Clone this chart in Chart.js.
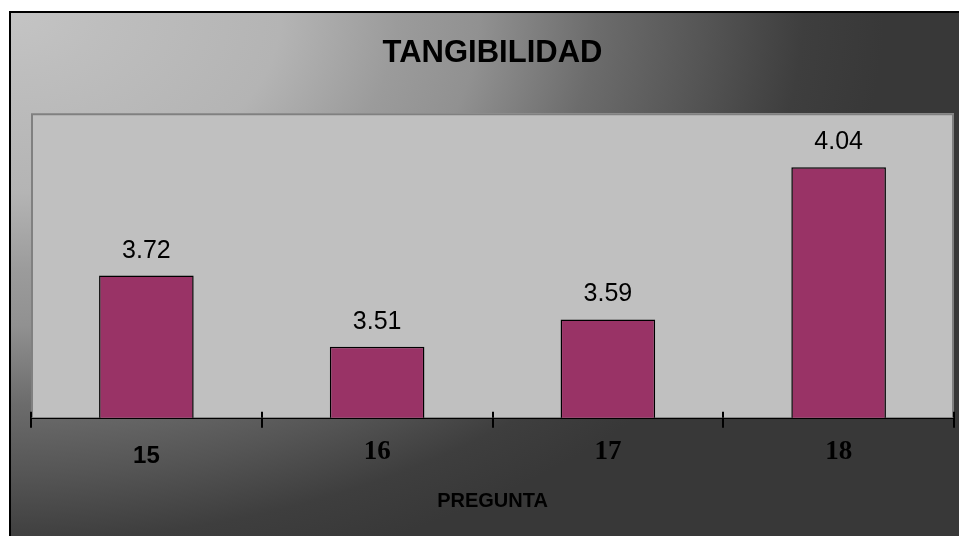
<!DOCTYPE html>
<html>
<head>
<meta charset="utf-8">
<script src="https://cdn.jsdelivr.net/npm/chart.js@4/dist/chart.umd.min.js"></script>
<style>
  html, body { margin: 0; padding: 0; background: #ffffff; }
  #frame {
    position: absolute;
    left: 9px;
    top: 11px;
    width: 948px;
    height: 523px;
    border-left: 2px solid #000;
    border-top: 2px solid #000;
    background: radial-gradient(ellipse 900px 600px at 0 0,
      #c4c4c4 0%, #bebebe 10%, #b4b4b4 30%, #9b9b9b 43%, #919191 52%,
      #6c6c6c 65%, #555555 77%, #3e3e3e 88%, #383838 97%, #383838 100%);
  }
  canvas { display: block; }
</style>
</head>
<body>
<div id="frame"><canvas id="chart" width="948" height="523"></canvas></div>
<script>
// Survey item numbers and their mean scores
const preguntas = ['15', '16', '17', '18'];
const promedios = [3.72, 3.51, 3.59, 4.04];
const tituloGrafico = 'TANGIBILIDAD';
const tituloEje = 'PREGUNTA';

// Grey plot panel with a border on three sides, the axis line closes the bottom
const plotPanel = {
  id: 'plotPanel',
  beforeDatasetsDraw(chart) {
    const { ctx, chartArea: a } = chart;
    ctx.save();
    ctx.fillStyle = '#c0c0c0';
    ctx.fillRect(a.left, a.top, a.right - a.left, a.bottom - a.top);
    ctx.strokeStyle = '#808080';
    ctx.lineWidth = 2;
    ctx.beginPath();
    ctx.moveTo(a.left + 1, a.bottom);
    ctx.lineTo(a.left + 1, a.top + 1);
    ctx.lineTo(a.right - 1, a.top + 1);
    ctx.lineTo(a.right - 1, a.bottom);
    ctx.stroke();
    ctx.restore();
  }
};

// Tick marks cross the axis: short stubs above it, the grid ticks run below
const crossTicks = {
  id: 'crossTicks',
  afterDatasetsDraw(chart) {
    const { ctx, chartArea: a } = chart;
    const x = chart.scales.x;
    const n = x.ticks.length;
    const step = x.getPixelForTick(1) - x.getPixelForTick(0);
    ctx.save();
    ctx.strokeStyle = '#000';
    ctx.lineWidth = 2;
    for (let i = 0; i <= n; i++) {
      const px = i < n ? x.getPixelForTick(i) - step / 2 : x.getPixelForTick(n - 1) + step / 2;
      const xx = Math.round(px);
      ctx.beginPath();
      ctx.moveTo(xx, a.bottom - 6);
      ctx.lineTo(xx, a.bottom);
      ctx.stroke();
    }
    ctx.restore();
  }
};

// Mean value written above each bar
const valueLabels = {
  id: 'valueLabels',
  afterDatasetsDraw(chart) {
    const { ctx } = chart;
    const meta = chart.getDatasetMeta(0);
    ctx.save();
    ctx.fillStyle = '#000';
    ctx.font = '25px "Liberation Sans", Arial, sans-serif';
    ctx.textAlign = 'center';
    ctx.textBaseline = 'middle';
    meta.data.forEach((bar, i) => {
      const v = chart.data.datasets[0].data[i];
      ctx.fillText(v.toFixed(2), bar.x, bar.y - 25);
    });
    ctx.restore();
  }
};

new Chart(document.getElementById('chart'), {
  type: 'bar',
  data: {
    labels: preguntas,
    datasets: [{
      data: promedios,
      backgroundColor: '#993366',
      borderColor: '#000000',
      borderWidth: 1.5,
      barPercentage: 0.41,
      categoryPercentage: 1
    }]
  },
  options: {
    responsive: false,
    devicePixelRatio: 1,
    animation: false,
    layout: { padding: { left: 20, right: 5, top: 0, bottom: 13 } },
    plugins: {
      legend: { display: false },
      tooltip: { enabled: false },
      title: {
        display: true,
        text: tituloGrafico,
        color: '#000',
        font: { family: '"Liberation Sans", Arial, sans-serif', size: 31, weight: 'bold', lineHeight: 1.2 },
        padding: { top: 22, bottom: 41 }
      }
    },
    scales: {
      y: {
        display: false,
        min: 3.3,
        max: 4.2
      },
      x: {
        offset: true,
        border: { display: true, color: '#000', width: 2 },
        grid: {
          offset: true,
          drawOnChartArea: false,
          drawTicks: true,
          tickLength: 10,
          color: '#000',
          lineWidth: 2
        },
        ticks: {
          color: '#000',
          padding: 8,
          // first item number set in sans, the rest in serif
          font: (ctx) => ctx.index === 0
            ? { family: '"Liberation Sans", Arial, sans-serif', size: 24, weight: 'bold', lineHeight: 1.72 }
            : { family: '"Liberation Serif", "Times New Roman", serif', size: 27, weight: 'bold', lineHeight: 1.2 }
        },
        title: {
          display: true,
          text: tituloEje,
          color: '#000',
          font: { family: '"Liberation Sans", Arial, sans-serif', size: 20, weight: 'bold', lineHeight: 1.2 },
          padding: { top: 4, bottom: 10 }
        }
      }
    }
  },
  plugins: [plotPanel, crossTicks, valueLabels]
});
</script>
</body>
</html>
